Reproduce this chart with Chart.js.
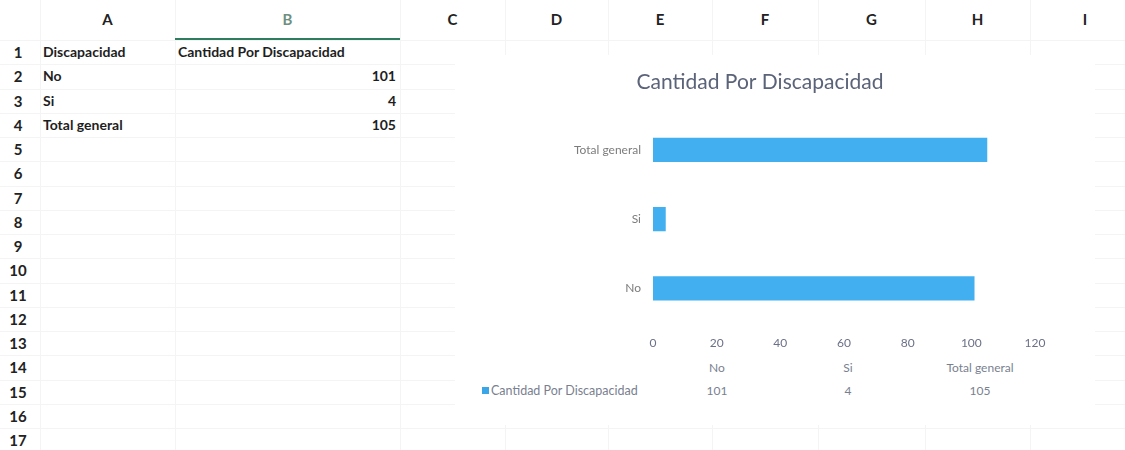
<!DOCTYPE html>
<html>
<head>
<meta charset="utf-8">
<script src="https://cdn.jsdelivr.net/npm/chart.js@4/dist/chart.umd.min.js"></script>
<style>
  html, body { margin: 0; padding: 0; background: #fff; }
  body { width: 1125px; height: 450px; position: relative; overflow: hidden; font-family: Lato, "Open Sans", sans-serif; }
  .abs { position: absolute; }
  .vline { position: absolute; top: 0; width: 1px; height: 450px; background: #f4f4f4; }
  .hline { position: absolute; left: 0; height: 1px; width: 1125px; background: #f4f4f4; }
  .colhead { position: absolute; top: 10px; font-weight: bold; font-size: 15px; color: #222; text-align: center; }
  .rowhead { position: absolute; left: 0; width: 36px; text-align: center; font-weight: bold; font-size: 15px; color: #222; }
  .cell { position: absolute; font-weight: bold; font-size: 14px; color: #1e1e1e; white-space: nowrap; }
  #chartBox { position: absolute; left: 455px; top: 55px; width: 640px; height: 370px; background: #fff; }
  #chartWrap { position: absolute; left: 0; top: 0; width: 612px; height: 300px; }
  .dt { position: absolute; font-size: 12px; color: #7a7f90; white-space: nowrap; transform: translateX(-50%); }
</style>
</head>
<body>
<div id="sheet"></div>
<div id="chartBox">
  <div id="chartWrap"><canvas id="chartCanvas"></canvas></div>
  <div id="dataTable"></div>
</div>
<script>
// data from the sheet
const categories = ["No", "Si", "Total general"];
const cantidad = [101, 4, 105];
const seriesName = "Cantidad Por Discapacidad";
const headerA = "Discapacidad";
const columnLetters = ["A", "B", "C", "D", "E", "F", "G", "H", "I"];
const xTicks = [0, 20, 40, 60, 80, 100, 120];

const sheet = document.getElementById("sheet");
const colEdges = [40, 175, 400, 505, 608, 712, 818, 925, 1030, 1140];
const rowTop = 40;
const rowH = 24.25;

// grid lines
colEdges.forEach(x => {
  const v = document.createElement("div");
  v.className = "vline";
  v.style.left = x + "px";
  sheet.appendChild(v);
});
for (let i = 0; i <= 17; i++) {
  const h = document.createElement("div");
  h.className = "hline";
  h.style.top = Math.round(rowTop + i * rowH) + "px";
  sheet.appendChild(h);
}

// column headers
columnLetters.forEach((c, i) => {
  const d = document.createElement("div");
  d.className = "colhead";
  d.style.left = colEdges[i] + "px";
  d.style.width = (colEdges[i + 1] - colEdges[i]) + "px";
  d.textContent = c;
  if (c === "B") d.style.color = "#6f8f80";
  sheet.appendChild(d);
});
const sel = document.createElement("div");
sel.className = "abs";
sel.style.cssText = "left:175px;top:38px;width:225px;height:2px;background:#2e7d5e;";
sheet.appendChild(sel);

// row numbers
for (let i = 1; i <= 17; i++) {
  const r = document.createElement("div");
  r.className = "rowhead";
  r.style.top = (rowTop + (i - 1) * rowH + 3) + "px";
  r.textContent = i;
  sheet.appendChild(r);
}

function addCell(text, row, col, right) {
  const d = document.createElement("div");
  d.className = "cell";
  d.style.top = (rowTop + (row - 1) * rowH + 3) + "px";
  if (right) {
    d.style.left = colEdges[col] + "px";
    d.style.width = (colEdges[col + 1] - colEdges[col] - 4) + "px";
    d.style.textAlign = "right";
  } else {
    d.style.left = (colEdges[col] + 3) + "px";
  }
  d.textContent = text;
  sheet.appendChild(d);
}
addCell(headerA, 1, 0);
addCell(seriesName, 1, 1);
categories.forEach((c, i) => {
  addCell(c, i + 2, 0);
  addCell(String(cantidad[i]), i + 2, 1, true);
});

// data table under the chart
const dataTable = document.getElementById("dataTable");
const dtX = [262, 393, 525];
categories.forEach((c, i) => {
  const h = document.createElement("div");
  h.className = "dt";
  h.style.left = dtX[i] + "px";
  h.style.top = "305px";
  h.textContent = c;
  dataTable.appendChild(h);
  const v = document.createElement("div");
  v.className = "dt";
  v.style.left = dtX[i] + "px";
  v.style.top = "328px";
  v.textContent = cantidad[i];
  dataTable.appendChild(v);
});
const leg = document.createElement("div");
leg.className = "abs";
leg.style.cssText = "left:27px;top:328px;font-size:12.5px;color:#7a7f90;white-space:nowrap;";
leg.innerHTML = '<span style="display:inline-block;width:7px;height:7px;background:#3aa6e8;margin-right:2px;vertical-align:1px;"></span>' + seriesName;
dataTable.appendChild(leg);

const ctx = document.getElementById("chartCanvas").getContext("2d");
new Chart(ctx, {
  type: "bar",
  data: {
    labels: categories,
    datasets: [{
      label: seriesName,
      data: cantidad,
      backgroundColor: "#42b0f0",
      barPercentage: 0.35,
      categoryPercentage: 1
    }]
  },
  options: {
    indexAxis: "y",
    responsive: true,
    maintainAspectRatio: false,
    animation: false,
    layout: { padding: { left: 30, right: 32, top: 0, bottom: 0 } },
    plugins: {
      legend: { display: false },
      tooltip: { enabled: false },
      title: {
        display: true,
        text: seriesName,
        color: "#5b6379",
        font: { family: "Lato, 'Open Sans', sans-serif", size: 21, weight: "normal" },
        padding: { top: 15, bottom: 20 }
      }
    },
    scales: {
      x: {
        min: 0,
        max: 120,
        afterBuildTicks: (scale) => { scale.ticks = xTicks.map(v => ({ value: v })); },
        grid: { display: false, drawTicks: false },
        border: { display: false },
        ticks: {
          color: "#6b7089",
          padding: 13,
          font: { family: "Lato, 'Open Sans', sans-serif", size: 12 }
        },
        afterFit: (scale) => { scale.height = 32; }
      },
      y: {
        reverse: true,
        grid: { display: false, drawTicks: false },
        border: { display: false },
        ticks: {
          color: "#7c7c7c",
          padding: 12,
          font: { family: "Lato, 'Open Sans', sans-serif", size: 12 }
        },
        afterFit: (scale) => { scale.width = 168; }
      }
    }
  }
});
</script>
</body>
</html>
